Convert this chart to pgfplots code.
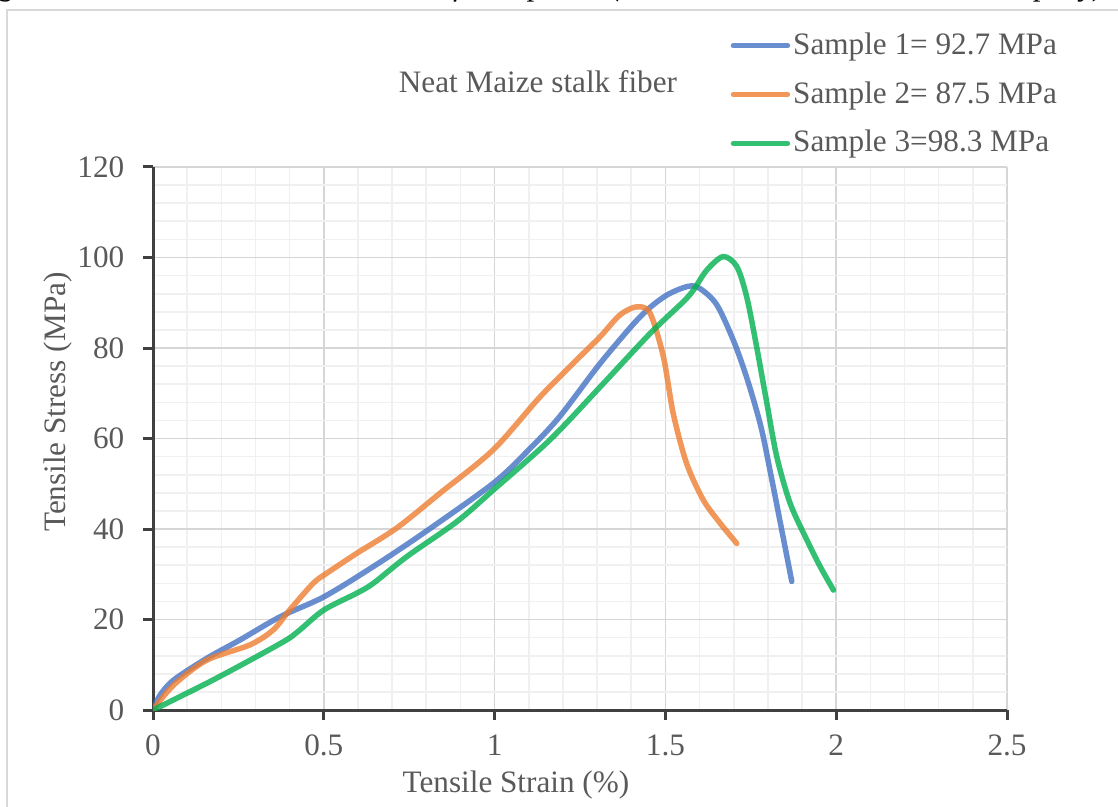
\documentclass[border=0pt]{standalone}
\usepackage{pgfplots}
\pgfplotsset{compat=1.18}
\usepackage{fontspec}
\setmainfont{Liberation Serif}
\definecolor{txt}{HTML}{595959}
\definecolor{axl}{HTML}{404040}
\definecolor{s1}{HTML}{4472C4}
\definecolor{s2}{HTML}{ED7D31}
\definecolor{s3}{HTML}{00B050}
\begin{document}
\fontsize{15.6}{18}\selectfont
\begin{tikzpicture}
\useasboundingbox (0pt,0pt) rectangle (559pt,-403.5pt);
\clip (0pt,0pt) rectangle (559pt,-403.5pt);
\draw[black!15, line width=1pt] (3.5pt,-5pt) rectangle (600pt,-450pt);
\node[anchor=base west, font=\itshape, text=black, inner sep=0pt] at (-14pt,2pt) {Figure 6: Tensile stress strain Curve of  Composite (0.0\% CNT, 0\% GNP and 100\% epoxy)};
\begin{axis}[
  at={(76.5pt,-355pt)}, anchor=south west,
  scale only axis, width=427pt, height=271.5pt,
  xmin=0, xmax=2.5, ymin=0, ymax=120,
  xtick={0,0.5,1,1.5,2,2.5}, ytick={0,20,...,120},
  xticklabels={0,0.5,1,1.5,2,2.5},
  minor x tick num=4, minor y tick num=4,
  grid=both,
  major grid style={line width=0.8pt, color=black!16},
  minor grid style={line width=0.8pt, color=black!6},
  axis x line*=bottom, axis y line*=left,
  axis line style={line width=1.5pt, color=axl, -},
  tick align=outside, major tick length=5pt, minor tick length=0pt,
  major tick style={line width=1.5pt, color=axl},
  /pgf/number format/assume math mode=true,
  ticklabel style={font=\fontsize{15.6}{18}\selectfont, text=txt},
  yticklabel style={xshift=-4pt},
  xticklabel style={yshift=-2pt},
  xlabel={Tensile Strain (\%)},
  ylabel={Tensile Stress (MPa)},
  label style={font=\fontsize{15.6}{18}\selectfont, text=txt},
  xlabel style={at={(axis description cs:0.425,-0.138)}, anchor=center},
  ylabel style={at={(axis description cs:-0.1112,0.567)}, anchor=center},
  every axis title shift=0pt,
  title={Neat Maize stalk fiber},
  title style={at={(axis description cs:0.4508,1.1565)}, anchor=center, font=\fontsize{15.6}{18}\selectfont, text=txt},
  legend style={at={(axis description cs:0.676,1.254)}, anchor=north west, draw=none, fill=none,
    inner sep=0pt, row sep=8.3pt, nodes={inner sep=1.5pt, text=txt, font=\fontsize{15.6}{18}\selectfont}},
  legend cell align=left,
  legend image code/.code={\draw[#1, line width=2.75pt, line cap=round] (0pt,0pt) -- (27pt,0pt);},
  every axis plot/.append style={line width=2.75pt, line cap=round, line join=round, draw opacity=0.8, smooth, tension=0.5},
]
\addplot[color=s1] coordinates {
(0,0) (0.02,3.2) (0.06,6.6) (0.157,11.4) (0.255,15.5) (0.372,20.6) (0.5,25.0) (0.645,31.7) (0.79,39) (0.996,50.1) (1.1,57.5) (1.19,64.8) (1.309,76.6) (1.426,86.9) (1.5,91.5) (1.565,93.6) (1.60,93.2) (1.65,89.6) (1.70,81.5) (1.74,73) (1.78,62.5) (1.81,51.5) (1.84,40) (1.87,28.4)
};
\addlegendentry{Sample 1= 92.7 MPa}
\addplot[color=s2] coordinates {
(0,0) (0.06,5.5) (0.157,11.0) (0.284,14.4) (0.352,17.7) (0.40,22.1) (0.469,28) (0.508,30.2) (0.596,34.6) (0.713,40.2) (0.84,47.9) (0.996,57.5) (1.133,69.2) (1.25,78.1) (1.309,82.5) (1.367,87.3) (1.416,89.1) (1.455,87.7) (1.494,78.1) (1.523,65.5) (1.562,54.5) (1.611,46.4) (1.66,41.3) (1.709,36.8)
};
\addlegendentry{Sample 2= 87.5 MPa}
\addplot[color=s3] coordinates {
(0,0) (0.157,5.9) (0.284,11.0) (0.391,15.5) (0.43,17.7) (0.5,22.1) (0.596,25.8) (0.645,28) (0.743,33.9) (0.889,41.6) (0.996,48.6) (1.162,59.7) (1.309,71.4) (1.455,83.2) (1.552,90.2) (1.582,92.8) (1.621,97.2) (1.669,100.2) (1.709,98) (1.738,91.3) (1.767,80.3) (1.797,67.8) (1.826,56) (1.865,45.7) (1.914,37.6) (1.953,31.7) (1.992,26.5)
};
\addlegendentry{Sample 3=98.3 MPa}
\end{axis}
\end{tikzpicture}
\end{document}
